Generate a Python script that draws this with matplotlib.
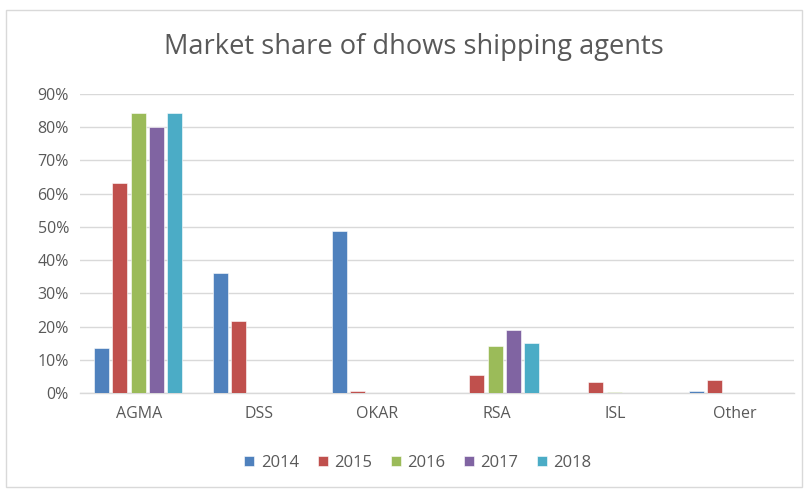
import matplotlib
matplotlib.use("Agg")
import matplotlib.pyplot as plt
import numpy as np
from matplotlib.patches import Rectangle
from matplotlib.ticker import PercentFormatter

categories = ["AGMA", "DSS", "OKAR", "RSA", "ISL", "Other"]
years = ["2014", "2015", "2016", "2017", "2018"]
v2014 = [13.4, 36.2, 48.9, 0.0, 0.0, 0.7]
v2015 = [63.1, 21.8, 0.7, 5.5, 3.3, 4.0]
v2016 = [84.3, 0.0, 0.0, 14.2, 0.4, 0.0]
v2017 = [80.0, 0.0, 0.0, 19.0, 0.0, 0.0]
v2018 = [84.3, 0.0, 0.0, 15.0, 0.0, 0.0]
series = [v2014, v2015, v2016, v2017, v2018]
colors = ["#4F81BD", "#C0504D", "#9BBB59", "#8064A2", "#4BACC6"]

plt.rcParams['font.family'] = ['Open Sans', 'DejaVu Sans']
text_color = "#595959"

fig = plt.figure(figsize=(8.06, 4.9), dpi=100)
ax = fig.add_axes([80/806, 1-393/490, 714/806, (393-94)/490])

x = np.arange(len(categories))
step = 0.154
width = 0.126
for i, (vals, c, yr) in enumerate(zip(series, colors, years)):
    ax.bar(x + (i - 2) * step - 0.01, np.array(vals) / 100, width=width, color=c,
           label=yr, edgecolor="white", linewidth=0.4, zorder=3)

ax.set_xlim(-0.5, len(categories) - 0.5)
ax.set_ylim(0, 0.9)
ax.set_yticks(np.arange(0, 0.91, 0.1))
ax.yaxis.set_major_formatter(PercentFormatter(1.0, decimals=0))
ax.set_xticks(x)
ax.set_xticklabels(categories)
ax.grid(axis="y", color="#D9D9D9", linewidth=1, zorder=0)
for s in ["top", "right", "left"]:
    ax.spines[s].set_visible(False)
ax.spines["bottom"].set_color("#D9D9D9")
ax.spines["bottom"].set_linewidth(1)
ax.tick_params(axis="both", length=0, colors=text_color, labelsize=11.5)
ax.tick_params(axis="x", pad=9)
ax.tick_params(axis="y", pad=8)

fig.text(414/806, 1-47/490, "Market share of dhows shipping agents", ha="center", va="center",
         fontsize=19.6, color=text_color)

leg = fig.legend(loc="center", bbox_to_anchor=(418/806, 1-463/490), ncol=5, frameon=False,
                 fontsize=12, handlelength=0.6, handleheight=0.6, handletextpad=0.4,
                 columnspacing=1.1)
for t in leg.get_texts():
    t.set_color(text_color)

fig.patches.append(Rectangle((6/806, 3/490), 796/806, 477/490, transform=fig.transFigure,
                             fill=False, edgecolor="#D9D9D9", linewidth=1))

fig.savefig("out.png", dpi=100)
